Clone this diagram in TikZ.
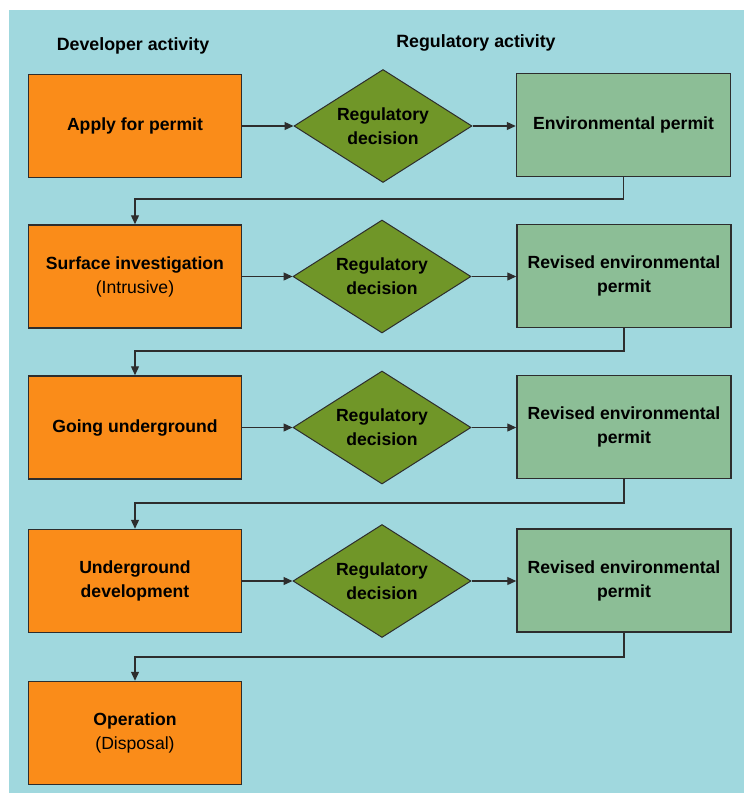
\documentclass[tikz,border=0pt]{standalone}
\usepackage{fontspec}
\setmainfont{Liberation Sans}
\usetikzlibrary{shapes.geometric,arrows.meta}
\definecolor{bgblue}{RGB}{160,216,222}
\definecolor{devorange}{RGB}{250,140,25}
\definecolor{decgreen}{RGB}{112,150,40}
\definecolor{permgreen}{RGB}{140,190,150}
\definecolor{edgegray}{RGB}{45,45,45}
\tikzset{
  x=1pt,y=-1pt,
  every node/.style={font=\fontsize{17.6}{24}\selectfont, align=center},
  devbox/.style={draw=edgegray, line width=1.5pt, fill=devorange, minimum width=213pt, minimum height=103pt, inner sep=0pt},
  permbox/.style={draw=edgegray, line width=1.5pt, fill=permgreen, minimum width=214pt, minimum height=103pt, inner sep=0pt},
  decbox/.style={diamond, aspect=1.575, draw=edgegray, line width=1pt, fill=decgreen, minimum width=178pt, minimum height=113pt, inner sep=0pt},
  flow/.style={draw=edgegray, line width=1.3pt, -{Triangle[length=9pt,width=8pt]}},
  header/.style={font=\fontsize{17.8}{24}\selectfont\bfseries}
}
\begin{document}
\begin{tikzpicture}
\useasboundingbox (0,0) rectangle (744,793);
\fill[white] (0,0) rectangle (744,793);
\fill[bgblue] (9,10) rectangle (744,793);

\node[header] (hdev) at (133,46) {Developer activity};
\node[header] (hreg) at (476,43) {Regulatory activity};

% row 1
\node[devbox] (o1) at (135,126) {\textbf{Apply for permit}};
\node[decbox] (d1) at (383,126) {\textbf{Regulatory}\\\textbf{decision}};
\node[permbox] (g1) at (623.5,125) {\textbf{Environmental permit}};
% row 2
\node[devbox] (o2) at (135,276.5) {\textbf{Surface investigation}\\(Intrusive)};
\node[decbox] (d2) at (382,276.5) {\textbf{Regulatory}\\\textbf{decision}};
\node[permbox] (g2) at (624,276) {\textbf{Revised environmental}\\\textbf{permit}};
% row 3
\node[devbox] (o3) at (135,427.5) {\textbf{Going underground}};
\node[decbox] (d3) at (382,427.5) {\textbf{Regulatory}\\\textbf{decision}};
\node[permbox] (g3) at (624,427) {\textbf{Revised environmental}\\\textbf{permit}};
% row 4
\node[devbox] (o4) at (135,581) {\textbf{Underground}\\\textbf{development}};
\node[decbox] (d4) at (382,581) {\textbf{Regulatory}\\\textbf{decision}};
\node[permbox] (g4) at (624,580.5) {\textbf{Revised environmental}\\\textbf{permit}};
% row 5
\node[devbox] (o5) at (135,733) {\textbf{Operation}\\(Disposal)};

\coordinate (h1) at (0,199);
\coordinate (h2) at (0,351);
\coordinate (h3) at (0,503);
\coordinate (h4) at (0,657);

\foreach \i in {1,2,3,4}{
  \draw[flow] (o\i.east) -- (d\i.west);
  \draw[flow] (d\i.east) -- (d\i.east -| g\i.west);
}
\foreach \i/\j in {1/2,2/3,3/4,4/5}{
  \draw[flow] (g\i.south) -- (g\i.south |- h\i) -| (o\j.north);
}
\end{tikzpicture}
\end{document}
